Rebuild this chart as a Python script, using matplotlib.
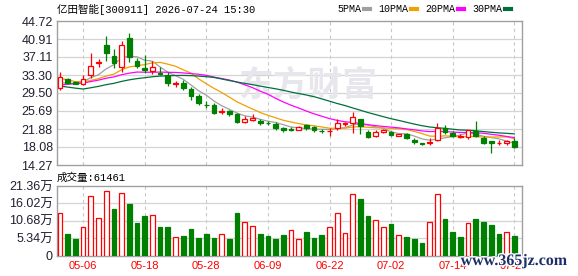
import numpy as np
import pandas as pd
import matplotlib
matplotlib.use("Agg")
import matplotlib.pyplot as plt
import matplotlib.patheffects as pe
from matplotlib.lines import Line2D

# ---- data ----
dates = ["04-28", "04-29", "04-30", "05-06", "05-07", "05-08", "05-11", "05-12", "05-13", "05-14",
         "05-15", "05-18", "05-19", "05-20", "05-21", "05-22", "05-25", "05-26", "05-27", "05-28",
         "05-29", "06-01", "06-02", "06-03", "06-04", "06-05", "06-08", "06-09", "06-10", "06-11",
         "06-12", "06-15", "06-16", "06-17", "06-18", "06-22", "06-23", "06-24", "06-25", "06-26",
         "06-29", "06-30", "07-01", "07-02", "07-03", "07-06", "07-07", "07-08", "07-09", "07-10",
         "07-13", "07-14", "07-15", "07-16", "07-17", "07-20", "07-21", "07-22", "07-23", "07-24"]

opens = [30.60, 32.40, 31.80, 31.50, 33.20, 35.90, 39.60, 37.30, 35.05, 41.06,
         36.26, 34.78, 34.15, 33.80, 33.30, 31.50, 31.67, 30.34, 28.86, 27.00,
         26.95, 25.50, 25.68, 24.98, 23.42, 23.72, 23.50, 23.10, 22.87, 22.03,
         21.85, 21.73, 22.72, 22.24, 21.50, 21.45, 22.03, 23.00, 23.21, 23.93,
         21.31, 20.40, 21.18, 21.18, 20.46, 20.75, 19.62, 18.98, 18.98, 19.55,
         22.03, 21.10, 20.25, 20.25, 21.45, 20.04, 19.34, 18.88, 18.85, 19.34]
closes = [32.80, 31.70, 31.40, 32.40, 35.30, 36.00, 37.90, 35.90, 39.60, 37.04,
          35.27, 34.29, 34.93, 33.45, 31.54, 31.60, 30.48, 28.92, 27.31, 26.90,
          25.33, 25.60, 24.98, 23.42, 23.93, 24.20, 23.10, 23.05, 22.03, 21.60,
          21.75, 22.30, 22.03, 21.60, 21.45, 21.55, 23.08, 23.10, 24.48, 22.52,
          20.25, 21.31, 21.67, 20.61, 20.75, 19.90, 19.06, 18.64, 19.20, 22.03,
          21.18, 20.33, 20.30, 21.67, 20.46, 18.98, 18.95, 18.92, 19.34, 18.14]
highs = [33.90, 32.60, 32.00, 33.30, 37.90, 36.70, 41.60, 38.80, 40.50, 42.10,
         36.96, 37.53, 36.32, 35.05, 33.87, 32.00, 32.24, 30.80, 29.20, 27.70,
         27.30, 26.40, 26.00, 25.20, 24.70, 25.00, 24.10, 23.50, 23.30, 22.20,
         22.20, 22.50, 23.00, 22.50, 21.90, 22.00, 24.00, 23.30, 25.54, 24.10,
         21.60, 21.60, 21.90, 21.40, 20.90, 21.00, 20.00, 19.00, 19.90, 23.20,
         22.72, 21.40, 20.90, 21.67, 23.60, 20.30, 19.34, 19.50, 19.60, 19.90]
lows = [30.10, 31.50, 31.30, 31.20, 32.60, 34.90, 36.30, 34.70, 33.90, 36.10,
        34.84, 33.66, 33.45, 33.30, 31.04, 30.80, 30.13, 28.00, 26.95, 26.30,
        25.00, 25.00, 24.63, 23.10, 23.20, 23.57, 22.66, 22.70, 21.67, 21.30,
        21.40, 21.60, 21.70, 21.30, 21.10, 20.46, 21.60, 22.60, 21.10, 20.90,
        20.00, 20.20, 21.00, 20.40, 20.40, 19.70, 18.70, 18.40, 18.40, 19.30,
        20.80, 20.10, 19.90, 19.76, 20.25, 18.80, 16.90, 18.60, 18.60, 17.80]
# earlier closes (left of the chart), only used to start the moving averages
pre_close = [38.5, 38.0, 37.9, 27.5, 27.0, 27.2, 27.4, 27.3, 27.2, 27.5,
             28.5, 29.0, 29.2, 29.5, 29.8, 30.0, 30.2, 30.3, 30.6, 30.5,
             35.0, 35.1, 32.8, 32.4, 32.2, 32.5, 31.6, 30.4, 31.2]
# volume, in 万 (10k shares)
volume = [12.97, 6.58, 5.03, 8.64, 18.20, 11.42, 19.76, 14.29, 19.14, 15.84,
          9.97, 12.13, 12.35, 8.74, 8.74, 5.56, 5.96, 8.12, 5.34, 6.48,
          5.34, 6.48, 5.03, 13.06, 10.19, 8.95, 6.58, 5.96, 5.03, 6.27,
          7.81, 5.03, 7.19, 5.44, 6.27, 8.74, 12.97, 6.79, 18.83, 17.38,
          12.13, 10.80, 8.64, 9.66, 6.17, 5.65, 5.03, 3.80, 10.19, 18.83,
          11.11, 7.19, 5.65, 9.88, 11.11, 10.28, 9.26, 6.58, 7.10, 6.1461]
last_volume = 61461

price_ticks = [14.27, 18.08, 21.88, 25.69, 29.50, 33.30, 37.11, 40.91, 44.72]
vol_ticks = [0, 5.34, 10.68, 16.02, 21.36]
vol_labels = ["0", "5.34万", "10.68万", "16.02万", "21.36万"]
date_ticks = ["05-06", "05-18", "05-28", "06-09", "06-22", "07-02", "07-14", "07-24"]
ma_windows = [5, 10, 20, 30]
ma_names = ["5PMA", "10PMA", "20PMA", "30PMA"]

# ---- colours ----
RED = "#ff0000"
GREEN = "#008000"
MA_COLORS = ["#a0a0a0", "#f0a000", "#ff00ff", "#006f3c"]
GRID = "#d4d4d4"
FRAME = "#a0a0a0"
LABEL = "#202030"

plt.rcParams["font.family"] = ["Liberation Sans", "Noto Sans CJK SC"]

x = np.arange(len(dates))
o = np.array(opens)
c = np.array(closes)
h = np.array(highs)
l = np.array(lows)
v = np.array(volume)

all_close = pd.Series(pre_close + closes)
mas = [all_close.rolling(w).mean().values[-len(closes):] for w in ma_windows]

up = c > o
prev_c = np.concatenate([[pre_close[-1]], c[:-1]])
vol_up = c >= prev_c

W, H = 578, 276
fig = plt.figure(figsize=(W / 100, H / 100), dpi=100)
ax = fig.add_axes([57 / W, 1 - 165 / H, 465 / W, 144 / H])
ax2 = fig.add_axes([57 / W, 1 - 255.5 / H, 465 / W, 69.5 / H])

tick_pos = [dates.index(d) for d in date_ticks]
xlim = (-0.39, 60.0)

for a in (ax, ax2):
    a.set_xlim(*xlim)
    for s in a.spines.values():
        s.set_color(FRAME)
        s.set_linewidth(1.0)
    a.tick_params(length=0, pad=3, labelsize=9, colors=LABEL)
    for p in tick_pos:
        a.axvline(p, color="#c8c8c8", lw=0.8, ls=(0, (3, 3)), zorder=0)

# price panel
ax.set_ylim(price_ticks[0], price_ticks[-1])
ax.set_yticks(price_ticks)
ax.set_yticklabels([f"{t:.2f}" for t in price_ticks])
ax.set_xticks([])
for t in price_ticks[1:-1]:
    ax.axhline(t, color=GRID, lw=0.9, zorder=0)

ax.text(0.54, 0.555, "东方财富", transform=ax.transAxes, ha="center", va="center",
        fontsize=25, fontweight="bold", color="#e6e6ec", family="Noto Sans CJK SC", zorder=0)

for ma, col in zip(mas, MA_COLORS):
    ax.plot(x, ma, color=col, lw=0.9, zorder=2)

body_w = 0.62
ax.vlines(x, l, h, colors=np.where(up, RED, GREEN), lw=0.9, zorder=3)
body_lo = np.minimum(o, c)
body_h = np.maximum(np.abs(c - o), 0.02)
ax.bar(x, body_h, bottom=body_lo, width=body_w,
       color=np.where(up, "white", GREEN), edgecolor=np.where(up, RED, GREEN),
       linewidth=0.9, zorder=4)

# volume panel
ax2.set_ylim(0, vol_ticks[-1])
ax2.set_yticks(vol_ticks)
ax2.set_yticklabels(vol_labels)
for t in vol_ticks[1:-1]:
    ax2.axhline(t, color=GRID, lw=0.9, zorder=0)
ax2.bar(x, v, width=body_w, color=np.where(vol_up, "white", GREEN),
        edgecolor=np.where(vol_up, RED, GREEN), linewidth=0.9, zorder=3)
ax2.set_xticks(tick_pos)
ax2.set_xticklabels(date_ticks)
ax2.tick_params(axis="x", colors=RED, labelsize=8, pad=4)

# texts
mono = ["Liberation Mono", "Noto Sans CJK SC"]
fig.text(57 / W, 1 - 9 / H, "亿田智能[300911] 2026-07-24 15:30", ha="left", va="center",
         fontsize=7.6, family=mono, color="black")
fig.text(57 / W, 1 - 178 / H, f"成交量:{last_volume}", ha="left", va="center",
         fontsize=7.6, family=mono, color="black")

handles = [Line2D([], [], color=col, lw=3) for col in MA_COLORS]
fig.legend(handles, ma_names, ncol=4, markerfirst=False, frameon=False,
           loc="center", bbox_to_anchor=(424 / W, 1 - 9 / H),
           handlelength=0.6, handletextpad=0.2, columnspacing=0.9,
           prop={"family": "Liberation Mono", "size": 7.2}, borderpad=0)

fig.text(514 / W, 1 - 261 / H, "www.365jz.com", ha="center", va="center",
         fontsize=11.5, family="Liberation Serif", fontweight="bold", color="#1c2f6b",
         path_effects=[pe.withStroke(linewidth=2, foreground="white")])

fig.savefig("out.png", dpi=100)
